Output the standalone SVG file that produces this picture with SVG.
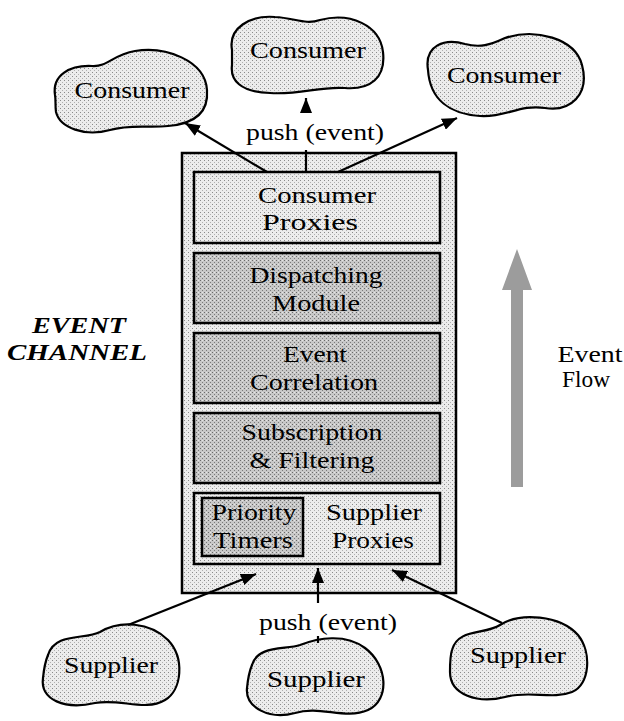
<svg xmlns="http://www.w3.org/2000/svg" width="624" height="721" viewBox="0 0 624 721">
<defs>
<marker id="ah" markerUnits="userSpaceOnUse" markerWidth="16" markerHeight="12" refX="15" refY="6" orient="auto">
<path d="M0,0 L15,6 L0,12 Z" fill="#000"/>
</marker>
<pattern id="lt" patternUnits="userSpaceOnUse" width="4" height="4">
<rect width="4" height="4" fill="#ececec"/>
<rect x="0" y="0" width="1" height="1" fill="#8a8a8a"/>
<rect x="2" y="2" width="1" height="1" fill="#b0b0b0"/>
</pattern>
<pattern id="dk" patternUnits="userSpaceOnUse" width="4" height="4">
<rect width="4" height="4" fill="#c8c8c8"/>
<rect x="0" y="0" width="1" height="1" fill="#6a6a6a"/>
<rect x="2" y="2" width="1" height="1" fill="#7a7a7a"/>
<rect x="2" y="0" width="1" height="1" fill="#e6e6e6"/>
</pattern>
<style>
.t{font-family:"Liberation Serif","Times New Roman",serif;font-size:24px;fill:#000;text-anchor:middle}
.bi{font-style:italic;font-weight:bold}
.cloud{fill:url(#lt);stroke:#000;stroke-width:2.2}
.light{fill:url(#lt);stroke:#000;stroke-width:2.5}
.dark{fill:url(#dk);stroke:#000;stroke-width:2.5}
.con{stroke:#000;stroke-width:2.2;fill:none}
</style>
</defs>
<rect width="624" height="721" fill="#fff"/>

<g id="event-channel">
<rect x="182" y="153" width="274" height="440" fill="url(#lt)" stroke="#000" stroke-width="2.5"/>
</g>
<g id="consumer-proxies">
<rect class="light" x="194" y="172" width="246" height="71"/>
<text class="t" x="317" y="203" textLength="118" lengthAdjust="spacingAndGlyphs">Consumer</text>
<text class="t" x="310" y="230" textLength="96" lengthAdjust="spacingAndGlyphs">Proxies</text>
</g>
<g id="dispatching-module">
<rect class="dark" x="194" y="253" width="246" height="70"/>
<text class="t" x="316" y="283" textLength="133" lengthAdjust="spacingAndGlyphs">Dispatching</text>
<text class="t" x="316" y="311" textLength="88" lengthAdjust="spacingAndGlyphs">Module</text>
</g>
<g id="event-correlation">
<rect class="dark" x="194" y="333" width="246" height="70"/>
<text class="t" x="315" y="362" textLength="64" lengthAdjust="spacingAndGlyphs">Event</text>
<text class="t" x="314" y="390" textLength="128" lengthAdjust="spacingAndGlyphs">Correlation</text>
</g>
<g id="subscription-filtering">
<rect class="dark" x="194" y="413" width="246" height="70"/>
<text class="t" x="312" y="440" textLength="141" lengthAdjust="spacingAndGlyphs">Subscription</text>
<text class="t" x="312" y="468" textLength="125" lengthAdjust="spacingAndGlyphs">&amp; Filtering</text>
</g>
<g id="supplier-proxies">
<rect class="light" x="194" y="493" width="246" height="71"/>
<text class="t" x="374" y="520" textLength="96" lengthAdjust="spacingAndGlyphs">Supplier</text>
<text class="t" x="373" y="548" textLength="82" lengthAdjust="spacingAndGlyphs">Proxies</text>
</g>
<g id="priority-timers">
<rect class="dark" x="202" y="498" width="101" height="58"/>
<text class="t" x="254" y="520" textLength="85" lengthAdjust="spacingAndGlyphs">Priority</text>
<text class="t" x="253" y="548" textLength="80" lengthAdjust="spacingAndGlyphs">Timers</text>
</g>

<g id="event-channel-label">
<text class="t bi" x="79" y="333" textLength="94" lengthAdjust="spacingAndGlyphs">EVENT</text>
<text class="t bi" x="77" y="360" textLength="140" lengthAdjust="spacingAndGlyphs">CHANNEL</text>
</g>

<g id="event-flow">
<path d="M511,487 L511,290 L502,290 L517,249 L532,290 L523,290 L523,487 Z" fill="#9c9c9c"/>
<text class="t" x="590" y="362" textLength="65" lengthAdjust="spacingAndGlyphs">Event</text>
<text class="t" x="586" y="387" textLength="48" lengthAdjust="spacingAndGlyphs">Flow</text>
</g>

<g id="consumer-left">
<path class="cloud" d="M55,95 C52,75 70,65 92,66 C108,67 112,55 135,51 C165,46 205,60 207,90 C209,115 192,124 168,126 C148,128 130,124 110,130 C85,137 60,128 56,112 C55,105 56,100 55,95 Z"/>
<text class="t" x="132" y="98" textLength="115" lengthAdjust="spacingAndGlyphs">Consumer</text>
</g>
<g id="consumer-middle">
<path class="cloud" d="M232,50 C228,28 250,15 275,17 C295,18 305,25 320,20 C350,12 380,25 383,52 C386,78 370,90 345,88 C320,86 300,95 270,93 C240,92 230,80 232,65 Z"/>
<text class="t" x="308" y="58" textLength="116" lengthAdjust="spacingAndGlyphs">Consumer</text>
</g>
<g id="consumer-right">
<path class="cloud" d="M428,70 C424,45 445,38 465,44 C480,48 490,45 505,38 C535,28 575,38 582,65 C590,95 570,112 545,108 C520,104 505,118 480,116 C450,114 430,100 428,70 Z"/>
<text class="t" x="504" y="83" textLength="114" lengthAdjust="spacingAndGlyphs">Consumer</text>
</g>
<g id="supplier-left">
<path class="cloud" d="M48,655 C55,632 85,640 100,632 C120,620 150,622 168,640 C185,658 182,690 165,700 C145,712 120,698 95,703 C65,710 40,700 43,678 C44,668 45,662 48,655 Z"/>
<text class="t" x="111" y="673" textLength="94" lengthAdjust="spacingAndGlyphs">Supplier</text>
</g>
<g id="supplier-middle">
<path class="cloud" d="M252,665 C258,645 285,650 300,645 C318,638 345,633 365,648 C388,665 390,700 368,710 C345,720 320,705 295,713 C270,720 245,708 247,688 C248,678 249,672 252,665 Z"/>
<text class="t" x="316" y="687" textLength="98" lengthAdjust="spacingAndGlyphs">Supplier</text>
</g>
<g id="supplier-right">
<path class="cloud" d="M452,650 C458,628 485,635 500,625 C520,612 560,615 578,635 C592,652 590,685 572,692 C552,700 530,690 505,697 C478,704 450,695 450,672 C450,662 450,656 452,650 Z"/>
<text class="t" x="518" y="663" textLength="96" lengthAdjust="spacingAndGlyphs">Supplier</text>
</g>

<g id="connectors">
<line class="con" x1="267" y1="172" x2="185" y2="123" marker-end="url(#ah)"/>
<line class="con" x1="306" y1="172" x2="306" y2="150"/>
<line class="con" x1="306" y1="113" x2="306" y2="98" marker-end="url(#ah)"/>
<line class="con" x1="338" y1="172" x2="457" y2="118" marker-end="url(#ah)"/>
<text class="t" x="315" y="140" textLength="138" lengthAdjust="spacingAndGlyphs">push (event)</text>
<line class="con" x1="128" y1="625" x2="256" y2="574" marker-end="url(#ah)"/>
<line class="con" x1="318" y1="603" x2="318" y2="568" marker-end="url(#ah)"/>
<line class="con" x1="318" y1="636" x2="318" y2="643"/>
<line class="con" x1="502" y1="623" x2="392" y2="570" marker-end="url(#ah)"/>
<text class="t" x="328" y="630" textLength="138" lengthAdjust="spacingAndGlyphs">push (event)</text>
</g>
</svg>
